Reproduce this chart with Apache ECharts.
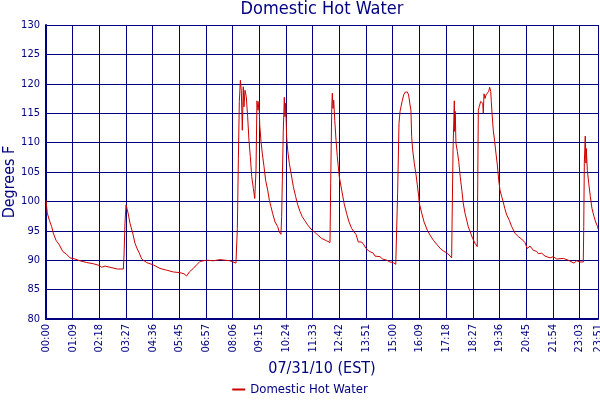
<!DOCTYPE html>
<html>
<head>
<meta charset="utf-8">
<script src="https://cdn.jsdelivr.net/npm/echarts@6/dist/echarts.min.js"></script>
<style>
  html, body { margin: 0; padding: 0; background: #fff; }
  #chart { width: 600px; height: 400px; }
</style>
</head>
<body>
<div id="chart"></div>
<script>
// Domestic Hot Water - 07/31/10, one sample about every 3 minutes

const tickLabels = ['00:00', '01:09', '02:18', '03:27', '04:36', '05:45', '06:57', '08:06',
    '09:15', '10:24', '11:33', '12:42', '13:51', '15:00', '16:09', '17:18', '18:27',
    '19:36', '20:45', '21:54', '23:03', '23:51'];
const samplesPerTick = 23;
const lastSample = 476;

// sample index along the day
const sampleIndex = [
    0, 1.1, 2.9, 4.9, 6.3, 8.6, 11.5, 14.4, 17.8, 20.7, 25.0, 29.3, 35.1, 40.8, 46.0, 48.0,
    50.9, 55.2, 61.5, 66.7, 67.3, 68.1, 69.0, 70.1, 71.3, 72.4, 74.8, 76.7, 78.7, 80.5, 82.5,
    86.8, 92.5, 98.3, 104.1, 109.8, 114.9, 119.0, 121.3, 123.6, 127.0, 129.9, 132.8, 138.6,
    144.3, 150.0, 158.7, 163.8, 164.7, 165.0, 165.9, 166.7, 167.6, 168.4, 169.3, 170.1, 170.7,
    171.6, 172.7, 173.9, 175.0, 176.2, 177.4, 178.8, 180.0, 180.8, 181.1, 181.9, 182.8, 183.7,
    184.3, 185.4, 186.5, 188.0, 189.4, 191.2, 192.6, 194.0, 195.5, 197.5, 199.8, 201.2, 202.6,
    203.2, 203.8, 204.6, 205.5, 206.1, 206.7, 207.5, 208.4, 209.8, 211.3, 213.3, 215.3, 217.1,
    219.0, 221.0, 223.3, 225.6, 228.5, 231.4, 234.3, 237.7, 242.0, 244.9, 245.5, 246.4, 246.9,
    247.5, 248.1, 249.0, 250.1, 251.2, 252.9, 255.0, 257.0, 259.3, 261.3, 263.6, 265.6, 267.3,
    269.3, 272.2, 274.2, 275.9, 278.8, 282.2, 283.7, 288.0, 290.3, 293.8, 296.6, 299.5, 300.9,
    301.6, 302.9, 303.2, 304.4, 305.3, 306.1, 307.2, 308.4, 309.8, 311.6, 312.7, 313.9, 314.7,
    315.3, 316.2, 317.6, 319.1, 320.2, 321.4, 321.9, 324.0, 326.0, 328.8, 331.1, 334.0, 337.4,
    340.4, 343.2, 346.1, 347.8, 349.8, 350.1, 351.0, 352.1, 352.4, 352.9, 353.5, 354.7, 355.9,
    357.2, 358.7, 359.8, 361.3, 362.8, 364.1, 366.2, 367.9, 369.9, 371.9, 372.3, 372.8, 373.6,
    374.8, 375.7, 376.6, 377.1, 377.7, 378.6, 379.4, 380.6, 381.7, 382.6, 383.5, 384.0, 384.6,
    385.7, 386.9, 388.0, 389.2, 390.4, 391.5, 393.0, 394.3, 395.6, 397.3, 399.5, 401.6, 404.4,
    407.3, 410.2, 413.0, 415.0, 417.4, 420.2, 423.1, 424.5, 427.4, 430.3, 434.6, 437.4, 440.4,
    446.1, 450.4, 455.3, 457.6, 460.5, 463.3, 463.7, 464.2, 465.0, 465.6, 465.9, 466.8, 468.0,
    469.4, 470.8, 472.6, 474.0, 475.7, 476
];

// temperature, degrees F
const tempF = [
    100.2, 98.0, 96.8, 95.7, 94.6, 93.4, 92.6, 91.5, 91.0, 90.4, 90.2, 89.9, 89.6, 89.4, 89.1, 88.8,
    89.0, 88.8, 88.5, 88.5, 90.9, 96.3, 99.4, 98.6, 97.5, 96.3, 94.6, 92.9, 91.9, 91.2, 90.2,
    89.6, 89.2, 88.6, 88.3, 88.0, 87.9, 87.7, 87.3, 88.0, 88.6, 89.2, 89.8, 90.0,
    89.9, 90.1, 89.9, 89.5, 89.4, 95.4, 107.3, 117.0, 120.6, 118.9, 112.1, 119.5, 116.1,
    118.9, 117.8, 114.4, 110.4, 107.6, 104.2, 102.2, 100.5, 100.2, 105.3, 117.1, 115.5, 117.0,
    113.0, 110.2, 108.2, 105.9, 103.6, 101.9, 100.2, 99.1, 97.9, 96.5, 95.7, 94.8, 94.4,
    97.4, 103.6, 111.9, 117.7, 114.4, 116.7, 111.0, 108.7, 106.5, 104.8, 102.5, 100.8, 99.4,
    98.3, 97.4, 96.7, 96.0, 95.3, 94.8, 94.3, 93.7, 93.3, 93.0, 103.1, 115.8, 118.4,
    115.8, 117.2, 113.8, 110.4, 107.6, 104.2, 101.9, 99.7, 97.9, 96.5, 95.4, 94.8, 94.4,
    93.1, 93.1, 92.6, 92.0, 91.5, 91.2, 90.7, 90.6, 90.2, 90.0, 89.7, 89.6, 89.7,
    89.3, 89.3, 101.4, 113.3, 115.3, 116.1, 117.1, 118.1, 118.6, 118.6, 118.1, 116.4, 115.5,
    111.0, 108.7, 106.5, 104.5, 102.8, 100.8, 99.7, 98.0, 96.5, 95.1, 94.3, 93.4, 92.6,
    91.9, 91.5, 91.2, 90.9, 90.4, 95.3, 108.7, 117.1, 111.9, 115.3, 109.9, 108.5, 106.8,
    104.2, 101.7, 99.7, 98.0, 96.8, 95.7, 94.6, 93.7, 92.9, 92.3, 103.6, 115.5, 116.1,
    117.0, 117.2, 116.7, 115.0, 118.3, 117.5, 118.1, 118.4, 118.7, 119.4, 118.7, 117.0, 115.0,
    112.1, 110.2, 108.2, 106.2, 103.6, 101.9, 100.8, 99.9, 98.8, 97.7, 96.8, 95.7, 94.6,
    94.0, 93.6, 93.0, 92.0, 92.4, 91.7, 91.5, 91.1, 91.2, 90.7, 90.4, 90.6, 90.2,
    90.3, 90.0, 89.5, 89.9, 89.7, 89.7, 95.7, 106.5, 111.1, 106.5, 109.0, 105.3, 103.1,
    100.8, 98.8, 97.4, 96.5, 95.7, 95.3
];

const navy = '#000080';
const red = '#cc0000';
const fontName = "'DejaVu Sans Condensed', 'DejaVu Sans', sans-serif";

const chart = echarts.init(document.getElementById('chart'), null, { renderer: 'canvas' });

const seriesData = sampleIndex.map((x, i) => [x, tempF[i]]);

chart.setOption({
    backgroundColor: '#fff',
    animation: false,
    textStyle: { fontFamily: fontName },
    title: {
        text: 'Domestic Hot Water',
        left: 322,
        textAlign: 'center',
        top: 0,
        padding: 0,
        textStyle: { color: navy, fontSize: 18, fontWeight: 'normal', fontFamily: fontName }
    },
    grid: { left: 46, right: 2, top: 25, bottom: 81, containLabel: false, outerBoundsMode: 'none' },
    legend: {
        top: 383,
        left: 'center',
        icon: 'rect',
        itemWidth: 13,
        itemHeight: 2,
        itemGap: 5,
        padding: 0,
        textStyle: { color: navy, fontSize: 13, fontFamily: fontName },
        data: ['Domestic Hot Water']
    },
    xAxis: {
        type: 'value',
        min: 0,
        max: lastSample,
        interval: samplesPerTick,
        name: '07/31/10 (EST)',
        nameLocation: 'middle',
        nameGap: 41,
        nameTextStyle: { color: navy, fontSize: 16, fontFamily: fontName },
        axisLine: { show: true, lineStyle: { color: navy, width: 2 } },
        axisTick: { show: false },
        axisLabel: {
            rotate: 90,
            margin: 5,
            color: navy,
            fontSize: 11,
            fontFamily: fontName,
            formatter: (v) => {
                const i = v >= lastSample ? tickLabels.length - 1 : Math.round(v / samplesPerTick);
                return tickLabels[i];
            }
        },
        splitLine: { show: true, lineStyle: { color: navy, width: 1 } }
    },
    yAxis: {
        type: 'value',
        min: 80,
        max: 130,
        interval: 5,
        name: 'Degrees F',
        nameLocation: 'middle',
        nameGap: 28,
        nameMoveOverlap: false,
        nameTextStyle: { color: navy, fontSize: 16, fontFamily: fontName, padding: [0, 20, 0, 0] },
        axisLine: { show: true, lineStyle: { color: navy, width: 2 } },
        axisTick: { show: false },
        axisLabel: { color: navy, fontSize: 11, margin: 6, fontFamily: fontName },
        splitLine: { show: true, lineStyle: { color: navy, width: 1 } }
    },
    series: [{
        name: 'Domestic Hot Water',
        type: 'line',
        data: seriesData,
        symbol: 'none',
        lineStyle: { color: red, width: 1 },
        itemStyle: { color: red }
    }]
});
</script>
</body>
</html>
